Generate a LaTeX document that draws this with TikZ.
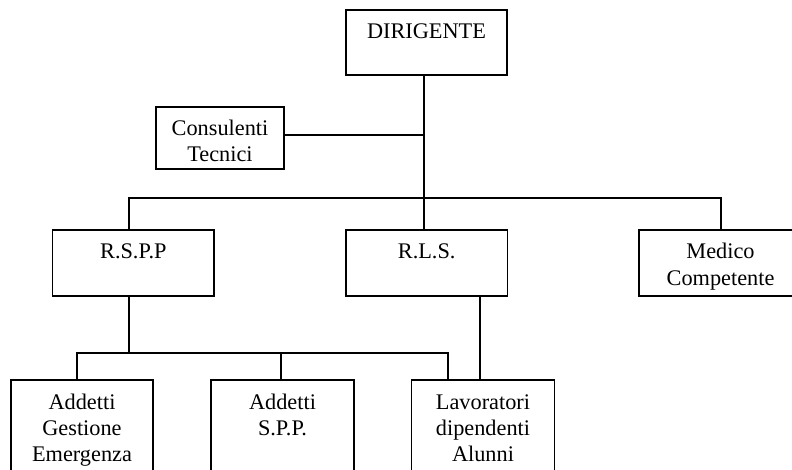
\documentclass[tikz,border=0pt]{standalone}
\usepackage{fontspec}
\setmainfont{Liberation Serif}
\newcommand\orgtext[3]{\parbox[c][#2][t]{#1}{\centering\rule{0pt}{29pt}#3\par}}
\begin{document}
\begin{tikzpicture}[x=1pt,y=-1pt,
  orgbox/.style={draw,line width=1.8pt,inner sep=0pt,font=\fontsize{22.3}{26}\selectfont},
  link/.style={line width=1.8pt}]
\useasboundingbox (0,0) rectangle (792,470);
\clip (0,0) rectangle (792,470);
\node[orgbox] (dir) at (426.5,42.5) {\orgtext{161pt}{65pt}{DIRIGENTE}};
\node[orgbox] (cons) at (220,138) {\orgtext{128pt}{62pt}{Consulenti\\Tecnici}};
\node[orgbox] (rspp) at (133.3,263) {\orgtext{161.5pt}{66pt}{R.S.P.P}};
\node[orgbox] (rls) at (426.7,263) {\orgtext{161.5pt}{66pt}{R.L.S.}};
\node[orgbox] (med) at (720.5,263) {\orgtext{163pt}{66pt}{Medico\\Competente}};
\node[orgbox] (age) at (82,430) {\orgtext{142.6pt}{100pt}{Addetti\\Gestione\\Emergenza}};
\node[orgbox] (aspp) at (282.5,430) {\orgtext{143pt}{100pt}{Addetti\\S.P.P.}};
\node[orgbox] (lav) at (483,430) {\orgtext{143pt}{100pt}{Lavoratori\\dipendenti\\Alunni}};
% junctions
\coordinate (trunk) at (424,198);
\coordinate (cj) at (424,135);
\coordinate (bl) at (129,198);
\coordinate (br) at (721,198);
\coordinate (lb) at (129,353);
\coordinate (lb1) at (77,353);
\coordinate (lb2) at (281,353);
\coordinate (lb3) at (448,353);
\coordinate (rlsx) at (480,353);
% connectors
\draw[link] (dir.south -| trunk) -- (rls.north -| trunk);
\draw[link] (cons.east |- cj) -- (cj);
\draw[link] (rspp.north -| bl) -- (bl) -- (br) -- (med.north -| br);
\draw[link] (rspp.south -| lb) -- (lb);
\draw[link] (age.north -| lb1) -- (lb1) -- (lb3) -- (lav.north -| lb3);
\draw[link] (lb2) -- (aspp.north -| lb2);
\draw[link] (rls.south -| rlsx) -- (lav.north -| rlsx);
\end{tikzpicture}
\end{document}
